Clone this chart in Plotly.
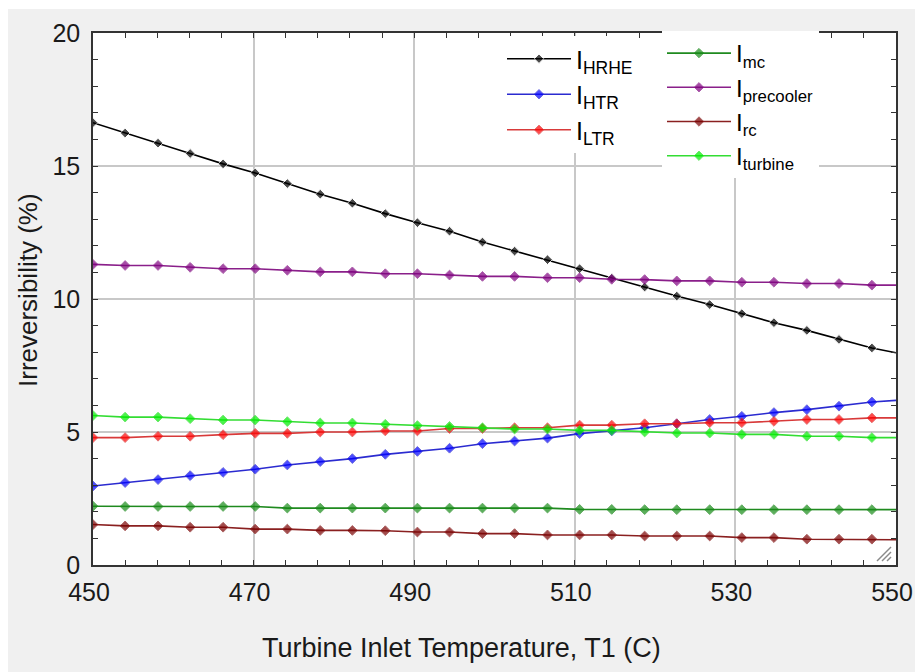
import plotly.graph_objects as go

# Turbine inlet temperature (C) at the plotted symbols; last point is line end
T1 = [450, 454, 458.1, 462.1, 466.2, 470.2, 474.2, 478.3, 482.3, 486.4, 490.4, 494.4, 498.5,
      502.5, 506.6, 510.6, 514.6, 518.7, 522.7, 526.8, 530.8, 534.8, 538.9, 542.9, 547, 550]

I_HRHE = [16.63, 16.24, 15.86, 15.47, 15.08, 14.74, 14.34, 13.94, 13.60, 13.21, 12.87, 12.55, 12.14,
          11.80, 11.48, 11.14, 10.78, 10.45, 10.11, 9.79, 9.45, 9.11, 8.82, 8.48, 8.16, 7.98]
I_HTR = [2.97, 3.10, 3.21, 3.36, 3.48, 3.60, 3.76, 3.89, 4.00, 4.16, 4.27, 4.39, 4.56,
         4.66, 4.77, 4.94, 5.04, 5.16, 5.31, 5.47, 5.59, 5.73, 5.84, 5.97, 6.13, 6.19]
I_LTR = [4.79, 4.79, 4.84, 4.84, 4.90, 4.95, 4.95, 5.00, 5.00, 5.04, 5.04, 5.13, 5.13,
         5.16, 5.16, 5.26, 5.26, 5.31, 5.31, 5.35, 5.35, 5.40, 5.47, 5.47, 5.53, 5.53]
I_mc = [2.21, 2.20, 2.20, 2.20, 2.20, 2.20, 2.14, 2.14, 2.14, 2.14, 2.14, 2.14, 2.14,
        2.14, 2.14, 2.09, 2.09, 2.08, 2.08, 2.08, 2.08, 2.08, 2.08, 2.08, 2.08, 2.08]
I_precooler = [11.30, 11.26, 11.26, 11.19, 11.14, 11.14, 11.08, 11.02, 11.02, 10.95, 10.95, 10.90, 10.85,
               10.85, 10.80, 10.80, 10.74, 10.73, 10.68, 10.68, 10.63, 10.63, 10.58, 10.58, 10.52, 10.52]
I_rc = [1.52, 1.47, 1.47, 1.42, 1.42, 1.35, 1.35, 1.30, 1.30, 1.29, 1.24, 1.24, 1.18,
        1.18, 1.13, 1.13, 1.13, 1.09, 1.09, 1.09, 1.03, 1.03, 0.97, 0.97, 0.97, 0.95]
I_turbine = [5.62, 5.56, 5.56, 5.50, 5.45, 5.45, 5.39, 5.34, 5.34, 5.29, 5.24, 5.21, 5.16,
             5.11, 5.11, 5.06, 5.06, 5.00, 4.96, 4.96, 4.91, 4.91, 4.84, 4.84, 4.79, 4.79]

x_ticks = [450, 470, 490, 510, 530, 550]
y_ticks = [0, 5, 10, 15, 20]

series = [
    ("I<sub>HRHE</sub>", I_HRHE, "#000000", "#000000", "legend"),
    ("I<sub>HTR</sub>", I_HTR, "#2b2bd0", "#0000ff", "legend"),
    ("I<sub>LTR</sub>", I_LTR, "#d83a3a", "#ff0000", "legend"),
    ("I<sub>mc</sub>", I_mc, "#1f8a1f", "#168c16", "legend2"),
    ("I<sub>precooler</sub>", I_precooler, "#8a1f8a", "#800080", "legend2"),
    ("I<sub>rc</sub>", I_rc, "#8a2020", "#7a0000", "legend2"),
    ("I<sub>turbine</sub>", I_turbine, "#33dd33", "#00ee00", "legend2"),
]

FONT = "Liberation Sans, Arial, sans-serif"
TXT = "#1a1a1a"

# plot-area pixel geometry -> paper coordinates (for decoration only)
L, R, TOP, BOT, W, H = 93, 19, 33, 107, 915, 672
PW, PH = W - L - R, H - TOP - BOT


def px(xp):
    return (xp - L) / PW


def py(yp):
    return (H - BOT - yp) / PH


fig = go.Figure()
sizes = [7.5] * (len(T1) - 1) + [0]
for name, vals, lc, mc, lg in series:
    fig.add_trace(go.Scatter(
        x=T1, y=vals, name=name, mode="lines+markers", legend=lg,
        line=dict(color=lc, width=1.6),
        marker=dict(symbol="diamond", size=sizes, color=mc),
    ))

shapes = [
    dict(type="rect", xref="paper", yref="paper", x0=px(-50), x1=px(8), y0=py(700), y1=py(-50),
         fillcolor="#ffffff", line=dict(width=0), layer="below"),
    dict(type="rect", xref="paper", yref="paper", x0=px(-50), x1=px(960), y0=py(9), y1=py(-50),
         fillcolor="#ffffff", line=dict(width=0), layer="below"),
]
# resize grip in the bottom-right corner of the plot box
for (a, b) in [((877, 561), (891, 547)), ((882, 561), (891, 552)), ((887, 561), (891, 557))]:
    shapes.append(dict(type="line", xref="paper", yref="paper",
                       x0=px(a[0]), y0=py(a[1]), x1=px(b[0]), y1=py(b[1]),
                       line=dict(color="#8a8a8a", width=1.5), layer="above"))

fig.update_layout(
    width=W, height=H,
    margin=dict(l=L, r=R, t=TOP, b=BOT, autoexpand=False),
    paper_bgcolor="#f0f0f0",
    plot_bgcolor="#ffffff",
    font=dict(family=FONT, color=TXT),
    legend=dict(x=px(502), y=py(36), xanchor="left", yanchor="top",
                bgcolor="#ffffff", font=dict(size=25, family=FONT, color="#000"),
                itemwidth=64, tracegroupgap=0),
    legend2=dict(x=px(662), y=py(31), xanchor="left", yanchor="top",
                 bgcolor="#ffffff", font=dict(size=24, family=FONT, color="#000"),
                 itemwidth=64, tracegroupgap=0),
    shapes=shapes,
    annotations=[
        dict(text="Turbine Inlet Temperature, T1 (C)", xref="paper", yref="paper",
             x=px(461), y=py(648), xanchor="center", yanchor="middle", showarrow=False,
             font=dict(size=27, family=FONT, color=TXT)),
        dict(text="Irreversibility (%)", xref="paper", yref="paper", textangle=-90,
             x=px(28), y=py(290), xanchor="center", yanchor="middle", showarrow=False,
             font=dict(size=26, family=FONT, color=TXT)),
    ],
)

fig.update_xaxes(
    range=[450, 550], tickvals=x_ticks, ticktext=[str(v) for v in x_ticks],
    showgrid=True, gridcolor="#c8c8c8", gridwidth=1.5,
    showline=True, linecolor="#333333", linewidth=1.5, mirror="ticks",
    ticks="inside", ticklen=5, tickcolor="#333333",
    minor=dict(dtick=4, tick0=450, ticks="inside", ticklen=5, tickcolor="#333333", showgrid=False),
    tickfont=dict(size=25, family=FONT, color=TXT),
    ticklabeloverflow="allow", ticklabelstandoff=4, ticklabelshift=-4, automargin=False,
    zeroline=False,
)
fig.update_yaxes(
    range=[0, 20], tickvals=y_ticks, ticktext=[str(v) for v in y_ticks],
    showgrid=True, gridcolor="#c8c8c8", gridwidth=1.5,
    showline=True, linecolor="#333333", linewidth=1.5, mirror="ticks",
    ticks="inside", ticklen=5, tickcolor="#333333",
    minor=dict(dtick=1, tick0=0, ticks="inside", ticklen=5, tickcolor="#333333", showgrid=False),
    tickfont=dict(size=25, family=FONT, color=TXT),
    ticklabelstandoff=6, automargin=False,
    zeroline=False,
)

fig.write_html("out.html")
